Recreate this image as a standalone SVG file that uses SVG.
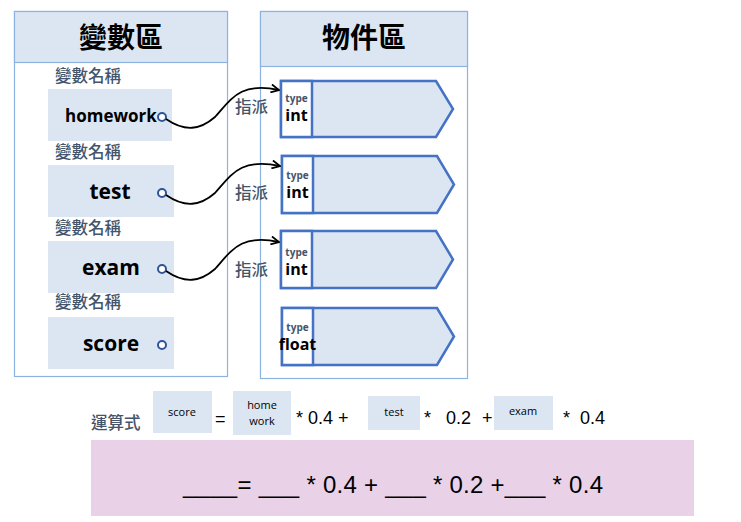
<svg xmlns="http://www.w3.org/2000/svg" width="741" height="522" viewBox="0 0 741 522">
<defs>
<style>
.panel{fill:#fff;stroke:#8db3e2;stroke-width:1.2}
.head{fill:#dce6f2;stroke:#8db3e2;stroke-width:1.2}
.title{font-family:"Noto Sans CJK TC",sans-serif;font-size:28px;font-weight:bold;fill:#000;text-anchor:middle}
.lbl{font-family:"Noto Sans CJK TC",sans-serif;font-size:16.5px;font-weight:500;fill:#44546a}
.vbox{fill:#dce6f2}
.vname{font-family:"Open Sans","Liberation Sans",sans-serif;font-weight:bold;fill:#000;text-anchor:middle}
.dot{fill:#fff;stroke:#2f5597;stroke-width:2}
.obj{fill:#dce6f2;stroke:#4472c4;stroke-width:2.5}
.typ{fill:#fff;stroke:#4472c4;stroke-width:2.5}
.tlbl{font-family:"Open Sans","Liberation Sans",sans-serif;font-size:10px;font-weight:bold;fill:#44546a;text-anchor:middle}
.tval{font-family:"Open Sans","Liberation Sans",sans-serif;font-size:16px;font-weight:bold;fill:#000;text-anchor:middle}
.conn{fill:none;stroke:#000;stroke-width:1.8}
.small{font-family:"Open Sans","Liberation Sans",sans-serif;font-size:11px;fill:#000;text-anchor:middle}
.eq{font-family:"Liberation Sans",sans-serif;font-size:18px;fill:#000}
</style>
<marker id="arr" markerWidth="10" markerHeight="10" refX="9" refY="5" orient="auto" markerUnits="userSpaceOnUse">
<path d="M1,1 L9,5 L1,9" fill="none" stroke="#000" stroke-width="1.8"/>
</marker>
</defs>
<rect width="741" height="522" fill="#fff"/>

<g id="var-area">
<rect class="panel" x="14.5" y="11.5" width="213" height="365"/>
<rect class="head" x="14.5" y="11.5" width="213" height="51"/>
<text class="title" x="121" y="48">變數區</text>
</g>

<g id="obj-area">
<rect class="panel" x="260.5" y="11.5" width="207" height="367"/>
<rect class="head" x="260.5" y="11.5" width="207" height="55"/>
<text class="title" x="364" y="48">物件區</text>
</g>

<g id="var-homework">
<text class="lbl" x="55" y="82">變數名稱</text>
<rect class="vbox" x="48" y="89" width="124" height="52"/>
<text class="vname" x="111" y="122" font-size="17">homework</text>
<circle class="dot" cx="162" cy="117" r="4"/>
</g>
<g id="var-test">
<text class="lbl" x="55" y="158">變數名稱</text>
<rect class="vbox" x="48" y="165" width="126" height="52"/>
<text class="vname" x="110" y="199" font-size="21">test</text>
<circle class="dot" cx="162" cy="193" r="4"/>
</g>
<g id="var-exam">
<text class="lbl" x="55" y="234">變數名稱</text>
<rect class="vbox" x="48" y="241" width="126" height="52"/>
<text class="vname" x="111" y="275" font-size="21">exam</text>
<circle class="dot" cx="162" cy="269" r="4"/>
</g>
<g id="var-score">
<text class="lbl" x="55" y="308">變數名稱</text>
<rect class="vbox" x="48" y="317" width="126" height="52"/>
<text class="vname" x="111" y="351" font-size="21">score</text>
<circle class="dot" cx="162" cy="345" r="4"/>
</g>

<g id="obj1">
<path class="obj" d="M281,81 H436 L453,109 L436,137 H281 Z"/>
<rect class="typ" x="281" y="81" width="31" height="56"/>
<text class="tlbl" x="296.5" y="102">type</text>
<text class="tval" x="296.5" y="121">int</text>
</g>
<g id="obj2">
<path class="obj" d="M282,156 H437 L454,184.5 L437,213 H282 Z"/>
<rect class="typ" x="282" y="156" width="31" height="57"/>
<text class="tlbl" x="297.5" y="179">type</text>
<text class="tval" x="297.5" y="198">int</text>
</g>
<g id="obj3">
<path class="obj" d="M281,231 H436 L453,259.5 L436,288 H281 Z"/>
<rect class="typ" x="281" y="231" width="31" height="57"/>
<text class="tlbl" x="296.5" y="256">type</text>
<text class="tval" x="296.5" y="275">int</text>
</g>
<g id="obj4">
<path class="obj" d="M282,308 H437 L454,336.5 L437,365 H282 Z"/>
<rect class="typ" x="282" y="308" width="31" height="57"/>
<text class="tlbl" x="297.5" y="331">type</text>
<text class="tval" x="297.5" y="350" font-size="13">float</text>
</g>

<g id="connectors">
<path class="conn" marker-end="url(#arr)" d="M166,119 C185,132 200,130 215,117 C232,98 240,82 279,90"/>
<path class="conn" marker-end="url(#arr)" d="M166,195 C185,208 200,206 215,193 C232,174 240,158 280,166"/>
<path class="conn" marker-end="url(#arr)" d="M166,271 C185,284 200,282 215,269 C232,250 240,234 279,242"/>
<text class="lbl" x="235" y="113" font-weight="normal">指派</text>
<text class="lbl" x="235" y="199" font-weight="normal">指派</text>
<text class="lbl" x="235" y="276" font-weight="normal">指派</text>
</g>

<g id="formula">
<text class="lbl" x="91" y="429">運算式</text>
<rect class="vbox" x="153" y="391" width="59" height="42"/>
<text class="small" x="182" y="416">score</text>
<text class="eq" x="215" y="425">=</text>
<rect class="vbox" x="233" y="391" width="58" height="44"/>
<text class="small" x="262" y="409">home</text>
<text class="small" x="262" y="425">work</text>
<text class="eq" x="296" y="424">* 0.4 +</text>
<rect class="vbox" x="368" y="396" width="52" height="34"/>
<text class="small" x="394" y="416">test</text>
<text class="eq" x="424" y="424">*</text>
<text class="eq" x="446" y="424">0.2</text>
<text class="eq" x="482" y="424">+</text>
<rect class="vbox" x="494" y="396" width="59" height="34"/>
<text class="small" x="523" y="415">exam</text>
<text class="eq" x="563" y="424">*</text>
<text class="eq" x="580" y="424">0.4</text>
</g>

<g id="answer">
<rect x="91" y="440" width="603" height="76" fill="#e9d1e8"/>
<text x="183" y="493" font-family="'Liberation Sans Narrow','Liberation Sans',sans-serif" font-size="24" fill="#000" textLength="420" lengthAdjust="spacing">____= ___ * 0.4 + ___ * 0.2 +___ * 0.4</text>
</g>
</svg>
